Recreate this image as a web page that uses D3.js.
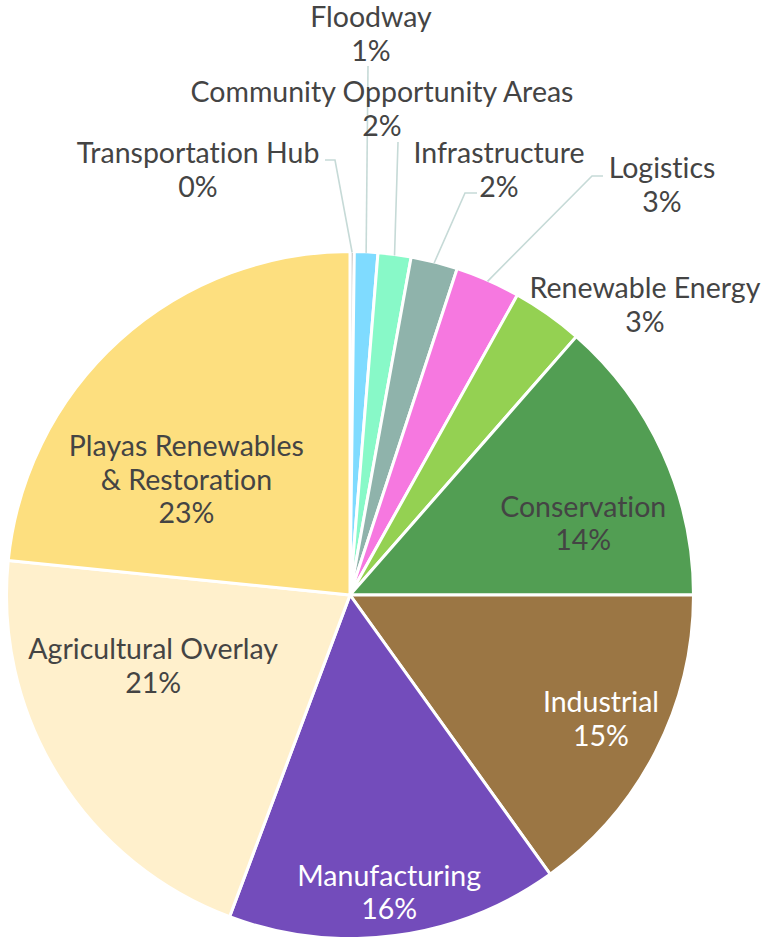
<!DOCTYPE html>
<html>
<head>
<meta charset="utf-8">
<script src="https://cdn.jsdelivr.net/npm/d3@7"></script>
<style>
  body { margin: 0; background: #fff; }
  text { font-family: Lato, "Open Sans", sans-serif; font-variant-ligatures: none; font-feature-settings: "liga" 0; }
</style>
</head>
<body>
<div id="chart"></div>
<script>
//Canvas dimensions
var width = 766,
    height = 937;

//Pie center and radius
var cx = 350,
    cy = 595,
    radius = 343.5;

//Data: land use categories and their share (%)
var categories = ["Transportation Hub", "Floodway", "Community Opportunity Areas", "Infrastructure", "Logistics",
                  "Renewable Energy", "Conservation", "Industrial", "Manufacturing", "Agricultural Overlay",
                  "Playas Renewables & Restoration"];
var values = [0.2, 1.1, 1.55, 2.2, 3.05, 3.35, 13.55, 15.1, 15.6, 20.9, 23.4];
var colors = ["#b0b0b0", "#7fdbff", "#88f9c8", "#8fb3ab", "#f678e0", "#94d152", "#529e53",
              "#9b7644", "#734cbb", "#fff0cc", "#fddf7f"];

//Label lines (text split for wrapping)
var labelLines = [["Transportation Hub"], ["Floodway"], ["Community Opportunity Areas"], ["Infrastructure"], ["Logistics"],
                  ["Renewable Energy"], ["Conservation"], ["Industrial"], ["Manufacturing"], ["Agricultural Overlay"],
                  ["Playas Renewables", "& Restoration"]];

//Inside labels: angle (deg, clockwise from 12 o'clock) and radius fraction
var insideLabels = {6: [73, 0.71], 7: [116.3, 0.815], 8: [172.5, 0.874], 9: [250.2, 0.609], 10: [305.2, 0.583]};
var insideTextColor = {7: "#fff", 8: "#fff"};

//Outside labels: text block center relative to pie center, and leader line points
var outsideLabels = {
  0: {pos: [-152, -425], leader: [[-15, -435], [-25, -435]]},
  1: {pos: [21, -561], leader: [[18, -529]]},
  2: {pos: [32, -486], leader: [[48, -453]]},
  3: {pos: [149, -425], leader: [[115, -402], [127, -402]]},
  4: {pos: [312, -410], leader: [[242, -419], [253, -419]]},
  5: {pos: [295, -290], leader: null}
};

var total = d3.sum(values);
var pctFormat = function(v) { return Math.round(v / total * 100) + "%"; };

var svg = d3.select("#chart")
            .append("svg")
            .attr("width", width)
            .attr("height", height);

var g = svg.append("g")
           .attr("transform", "translate(" + cx + "," + cy + ")");

var pie = d3.pie().sort(null).value(function(d) { return d; });
var arcs = pie(values);

var arc = d3.arc().innerRadius(0).outerRadius(radius);

//Slices
g.selectAll(".slice")
 .data(arcs)
 .enter()
 .append("path")
 .attr("class", "slice")
 .attr("d", arc)
 .attr("fill", function(d, i) { return colors[i]; })
 .attr("stroke", "#fff")
 .attr("stroke-width", 3);

var fontSize = 28.5,
    lineHeight = 33.5;

function drawBlock(x, y, lines, fill) {
  var t = g.append("text")
           .attr("text-anchor", "middle")
           .attr("font-size", fontSize)
           .attr("fill", fill);
  var n = lines.length;
  lines.forEach(function(s, k) {
    t.append("tspan")
     .attr("x", x)
     .attr("y", y + (k - (n - 1) / 2) * lineHeight)
     .attr("dy", "0.35em")
     .text(s);
  });
}

//Inside labels
arcs.forEach(function(d, i) {
  if (!insideLabels[i]) return;
  var a = insideLabels[i][0] * Math.PI / 180,
      r = insideLabels[i][1] * radius;
  var x = r * Math.sin(a),
      y = -r * Math.cos(a);
  drawBlock(x, y, labelLines[i].concat([pctFormat(values[i])]), insideTextColor[i] || "#444");
});

//Outside labels with leader lines
arcs.forEach(function(d, i) {
  var o = outsideLabels[i];
  if (!o) return;
  if (o.leader) {
    var mid = (d.startAngle + d.endAngle) / 2;
    var pts = [[(radius - 1) * Math.sin(mid), -(radius - 1) * Math.cos(mid)]].concat(o.leader);
    g.append("path")
     .attr("d", d3.line()(pts))
     .attr("fill", "none")
     .attr("stroke", "#c6dad7")
     .attr("stroke-width", 1.6);
  }
  drawBlock(o.pos[0], o.pos[1], labelLines[i].concat([pctFormat(values[i])]), "#444");
});
</script>
</body>
</html>
